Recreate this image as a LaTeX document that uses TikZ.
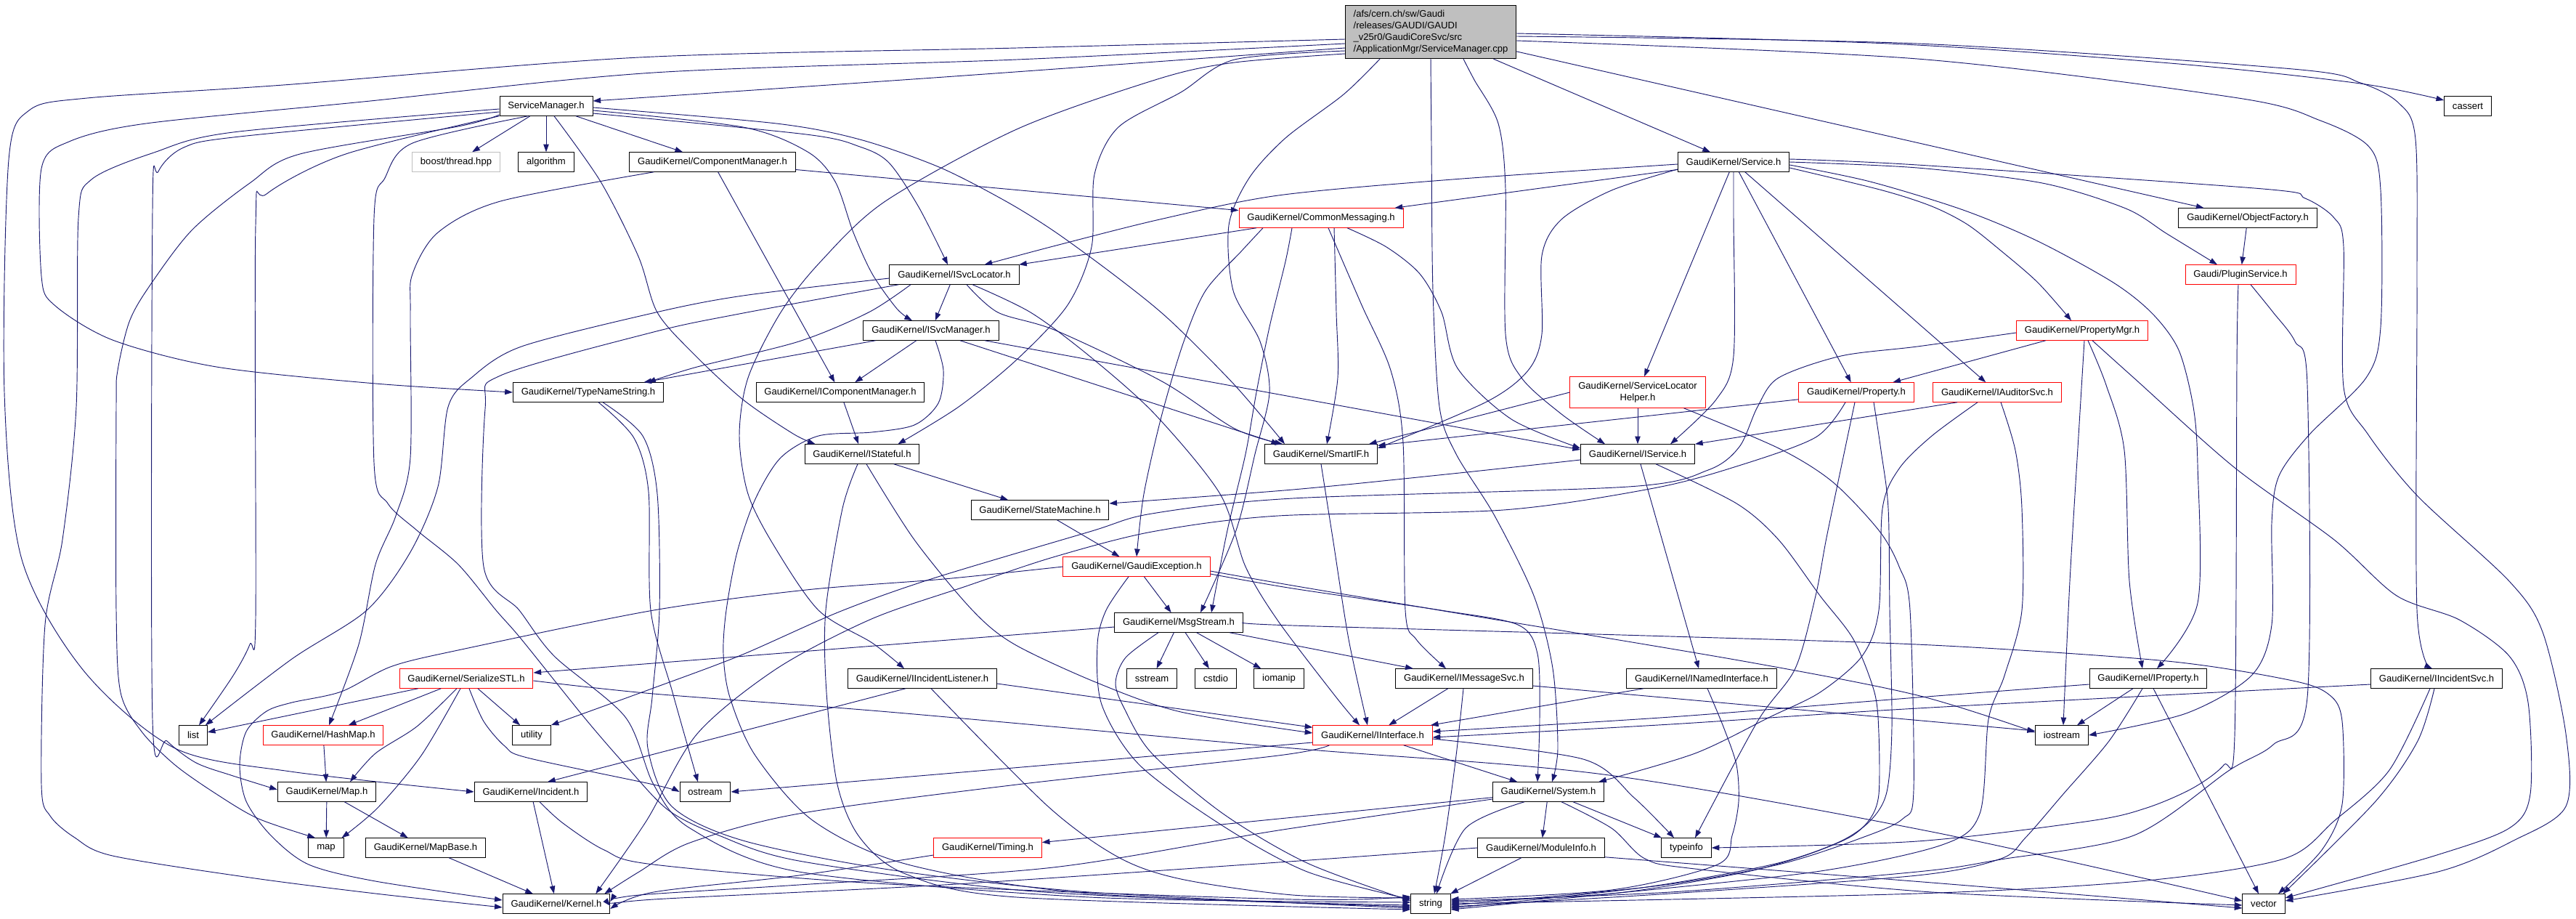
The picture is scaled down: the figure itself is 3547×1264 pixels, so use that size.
\documentclass[tikz,border=0pt]{standalone}
\usepackage{fontspec}
\setmainfont{Liberation Sans}
\usetikzlibrary{arrows.meta,calc}
\definecolor{edgec}{HTML}{191970}
\definecolor{grayc}{HTML}{BFBFBF}
\newcommand\edgeplot[1]{\draw[edge] plot[smooth,tension=0.5] coordinates {#1};}
\begin{document}
\begin{tikzpicture}[x=0.75pt,y=-0.75pt,
  box/.style={draw=black, line width=0.75pt, fill=white, inner xsep=8.5pt, inner ysep=0pt,
     minimum height=19.9pt, font=\fontsize{9.8}{12}\selectfont, anchor=center},
  redbox/.style={box, draw=red},
  graybox/.style={box, draw=grayc},
  rootbox/.style={box, fill=grayc, align=left, inner ysep=3.5pt, minimum height=55pt},
  edge/.style={draw=edgec, line width=0.7pt, -{Triangle[length=8pt,width=5.6pt]}},
]
\fill[white] (0,0) rectangle (3547,1264);
\useasboundingbox (0,0) rectangle (3547,1264);

% ---------------- nodes ----------------
\node[rootbox] (root) at (1970,44) {/afs/cern.ch/sw/Gaudi\\/releases/GAUDI/GAUDI\\\_v25r0/GaudiCoreSvc/src\\/ApplicationMgr/ServiceManager.cpp};
\node[box] (SM) at (752,146) {ServiceManager.h};
\node[box] (cassert) at (3398,146) {cassert};
\node[graybox] (boost) at (628,223) {boost/thread.hpp};
\node[box] (algo) at (752,223) {algorithm};
\node[box] (CM) at (981,223) {GaudiKernel/ComponentManager.h};
\node[box] (Svc) at (2387,223) {GaudiKernel/Service.h};
\node[redbox] (CMsg) at (1819,300) {GaudiKernel/CommonMessaging.h};
\node[box] (ObjF) at (3095,300) {GaudiKernel/ObjectFactory.h};
\node[box] (ISL) at (1314,378) {GaudiKernel/ISvcLocator.h};
\node[redbox] (PlugS) at (3085,378) {Gaudi/PluginService.h};
\node[box] (ISM) at (1282,455) {GaudiKernel/ISvcManager.h};
\node[redbox] (PMgr) at (2867,455) {GaudiKernel/PropertyMgr.h};
\node[box] (TNS) at (810,540) {GaudiKernel/TypeNameString.h};
\node[box] (ICM) at (1157,540) {GaudiKernel/IComponentManager.h};
\node[redbox, align=center, minimum height=32pt, inner ysep=2pt] (SLH) at (2255,540) {GaudiKernel/ServiceLocator\\Helper.h};
\node[redbox] (Prop) at (2556,540) {GaudiKernel/Property.h};
\node[redbox] (IAud) at (2750,540) {GaudiKernel/IAuditorSvc.h};
\node[box] (IStf) at (1187,625) {GaudiKernel/IStateful.h};
\node[box] (Smart) at (1819,625) {GaudiKernel/SmartIF.h};
\node[box] (ISvc) at (2255,625) {GaudiKernel/IService.h};
\node[box] (SMach) at (1432,702) {GaudiKernel/StateMachine.h};
\node[redbox] (GExc) at (1565,780) {GaudiKernel/GaudiException.h};
\node[box] (MsgS) at (1623,857) {GaudiKernel/MsgStream.h};
\node[redbox] (SSTL) at (642,934) {GaudiKernel/SerializeSTL.h};
\node[box] (IIL) at (1270,934) {GaudiKernel/IIncidentListener.h};
\node[box] (sstream) at (1586,934) {sstream};
\node[box] (cstdio) at (1674,934) {cstdio};
\node[box] (iomanip) at (1761,934) {iomanip};
\node[box] (IMS) at (2016,934) {GaudiKernel/IMessageSvc.h};
\node[box] (INI) at (2343,934) {GaudiKernel/INamedInterface.h};
\node[box] (IProp) at (2958,934) {GaudiKernel/IProperty.h};
\node[box] (IIS) at (3355,934) {GaudiKernel/IIncidentSvc.h};
\node[box] (list) at (266,1012) {list};
\node[redbox] (HashMap) at (445,1012) {GaudiKernel/HashMap.h};
\node[box] (utility) at (732,1012) {utility};
\node[redbox] (IIntf) at (1890,1012) {GaudiKernel/IInterface.h};
\node[box] (iostream) at (2839,1012) {iostream};
\node[box] (Map) at (450,1090) {GaudiKernel/Map.h};
\node[box] (Inc) at (731,1090) {GaudiKernel/Incident.h};
\node[box] (ostream) at (971,1090) {ostream};
\node[box] (Sys) at (2132,1090) {GaudiKernel/System.h};
\node[box] (map) at (449,1167) {map};
\node[box] (MapBase) at (586,1167) {GaudiKernel/MapBase.h};
\node[redbox] (Timing) at (1360,1167) {GaudiKernel/Timing.h};
\node[box] (ModInfo) at (2122,1167) {GaudiKernel/ModuleInfo.h};
\node[box] (typeinfo) at (2322,1167) {typeinfo};
\node[box] (Kernel) at (766,1244) {GaudiKernel/Kernel.h};
\node[box] (string) at (1970,1244) {string};
\node[box] (vector) at (3117,1244) {vector};

% ---------------- edges from root ----------------
\edgeplot{($(root.west)+(0,10)$) (1400,66) (880,79) (390,117) (120,135) (40,152) (12,220) (6,540) (30,770) (115,923) (241,1030) (400,1062) (Inc.west)}
\edgeplot{($(root.west)+(0,16)$) (1400,82) (900,100) (500,140) (201,170) (95,195) (57,232) (57,380) (75,420) (155,468) (298,505) (517,528) (TNS.west)}
\edgeplot{($(root.west)+(0,22)$) (1300,106) ($(SM.east)+(0,-7)$)}
\edgeplot{($(root.west)+(0,30)$) (1700,86) (1597,108) (1402,177) (1219,277) (1130,360) (1075,430) (1030,520) (1018,600) (1030,680) (1065,750) (1127,840) (1201,885) ($(IIL.north)+(-25,0)$)}
\edgeplot{($(root.west)+(0,26)$) (1700,82) (1626,127) (1540,175) (1507,240) (1503,340) (1470,420) (1400,495) (1320,560) ($(IStf.north east)+(-30,0)$)}
\edgeplot{($(root.south)+(-70,0)$) (1850,130) (1770,190) (1720,245) (1692,310) (1698,400) (1735,470) (1748,540) (1728,625) (1702,730) ($(MsgS.north)+(30,0)$)}
\edgeplot{(root.south) (1971,200) (1973,400) (1982,560) (2005,625) (2058,710) (2112,820) (2138,920) (2145,1030) ($(Sys.north)+(5,0)$)}
\edgeplot{($(root.south)+(45,0)$) (2030,110) (2063,170) (2073,260) (2073,460) (2095,520) (2150,570) ($(ISvc.north)+(-45,0)$)}
\draw[edge] (root) -- (Svc);
\draw[edge] (root) -- (ObjF);
\edgeplot{($(root.east)+(0,2)$) (2600,60) (3000,88) (3250,115) ($(cassert.west)+(0,-8)$)}
\edgeplot{($(root.east)+(0,6)$) (2640,60) (3157,95) (3250,114) (3303,142) (3326,192) (3328,400) (3328,840) ($(IIS.north)+(-6,0)$)}
\edgeplot{($(root.east)+(0,12)$) (2640,81) (3082,135) (3195,166) (3262,202) (3278,262) (3278,450) (3258,520) (3180,598) (3138,655) (3128,720) (3128,860) (3100,930) (3010,982) (iostream.east)}

% ---------------- ServiceManager.h ----------------
\draw[edge] (SM) -- (boost);
\draw[edge] (SM) -- (algo);
\draw[edge] (SM) -- (CM);
\edgeplot{($(SM.west)+(0,4)$) (321,182) (212,210) (126,247) (108,300) (105,560) (86,743) (62,860) (57,1080) (69,1123) (103,1153) (155,1178) (344,1208) (517,1230) ($(Kernel.west)+(0,5)$)}
\edgeplot{($(SM.west)+(0,8)$) (330,188) (253,203) (218,236) (210,290) (210,990) (230,1020) (270,1050) (321,1068) ($(Map.west)+(0,-3)$)}
\edgeplot{($(SM.west)+(0,12)$) (631,174) (413,212) (344,252) (264,317) (205,395) (178,443) (162,510) (160,560) (160,840) (166,953) (195,1007) (241,1053) (298,1093) (356,1127) ($(map.north)+(-15,0)$)}
\edgeplot{(SM.south west) (476,212) (367,267) (352,310) (352,850) (344,887) (321,930) ($(list.north)+(8,0)$)}
\edgeplot{($(SM.south)+(-25,0)$) (568,197) (530,245) (515,300) (515,637) (534,693) (574,730) (631,777) (683,840) (718,880) (804,987) (861,1053) (920,1115) (990,1150) (1100,1185) (1400,1225) (1700,1240) ($(string.west)+(0,2)$)}
\edgeplot{($(SM.south)+(11,0)$) (827,250) (879,353) (905,430) (955,487) (1023,550) (1092,597) ($(IStf.north west)+(15,0)$)}
\edgeplot{($(SM.east)+(0,6)$) (1023,175) (1112,209) (1150,250) (1175,320) (1201,377) (1235,425) ($(ISM.north)+(-26,0)$)}
\edgeplot{($(SM.east)+(0,10)$) (1110,185) (1184,202) (1224,224) (1265,285) ($(ISL.north)+(-9,0)$)}
\edgeplot{($(SM.east)+(0,2)$) (1069,170) (1184,192) (1293,230) (1385,277) (1454,320) (1540,383) (1610,440) (1700,530) ($(Smart.north)+(-50,0)$)}

% ---------------- ComponentManager.h ----------------
\draw[edge] (CM) -- (CMsg);
\draw[edge] (CM) -- (ICM);
\edgeplot{($(CM.south west)+(34,0)$) (689,277) (603,320) (568,377) (565,430) (565,630) (545,710) (517,777) (494,887) ($(HashMap.north)+(8,0)$)}

% ---------------- Service.h ----------------
\edgeplot{($(Svc.west)+(0,3)$) (2000,247) (1760,269) (1597,302) (1454,338) ($(ISL.north east)+(-48,0)$)}
\draw[edge] (Svc) -- (CMsg);
\edgeplot{($(Svc.west)+(0,10)$) (2219,262) (2150,302) (2123,352) (2123,460) (2104,510) (2047,553) ($(Smart.east)+(0,-8)$)}
\draw[edge] (Svc) -- (SLH);
\edgeplot{(Svc.south) (2387,300) (2387,490) (2363,550) ($(ISvc.north)+(45,0)$)}
\draw[edge] (Svc) -- (Prop);
\draw[edge] (Svc) -- (IAud);
\edgeplot{($(Svc.east)+(0,8)$) (2592,262) (2660,284) (2709,309) (2755,345) (2806,389) ($(PMgr.north)+(-15,0)$)}
\edgeplot{($(Svc.east)+(0,4)$) (2575,250) (2703,289) (2806,332) (2910,389) (2964,432) (3000,482) (3020,560) (3026,640) (3026,830) ($(IProp.north)+(12,0)$)}
\edgeplot{(Svc.east) (2640,231) (2812,252) (2927,287) (2984,322) ($(PlugS.north)+(-32,0)$)}
\edgeplot{($(Svc.east)+(0,-4)$) (2640,227) (3116,260) (3174,273) (3214,300) (3227,340) (3227,533) (3260,597) (3329,683) (3455,800) (3501,870) (3533,1010) (3533,1110) (3461,1157) (3357,1200) ($(vector.east)+(0,-4)$)}

\draw[edge] (ObjF) -- (PlugS);
\edgeplot{($(PlugS.south)+(-3,0)$) (3080,500) (3077,1013) (3062,1053) (3019,1085) (2956,1112) (2878,1130) (2640,1158) (typeinfo.east)}
\edgeplot{($(PlugS.south)+(14,0)$) (3130,430) (3160,470) (3177,530) (3177,960) (3130,1025) (3070,1060) (2938,1150) (2755,1183) (2640,1200) (2300,1228) ($(string.east)+(0,-4)$)}

% ---------------- CommonMessaging.h ----------------
\draw[edge] (CMsg) -- (ISL);
\edgeplot{($(CMsg.south)+(10,0)$) (1875,420) (1915,510) (1932,610) (1935,840) (1950,880) ($(IMS.north)+(-25,0)$)}
\edgeplot{($(CMsg.south)+(18,0)$) (1840,430) (1842,520) ($(Smart.north)+(8,0)$)}
\edgeplot{($(CMsg.south)+(36,0)$) (1909,340) (1955,377) (1985,430) (2007,507) (2081,577) ($(ISvc.west)+(0,-8)$)}
\edgeplot{($(CMsg.south)+(-80,0)$) (1710,345) (1660,400) (1630,470) (1600,570) (1575,680) (GExc.north)}
\edgeplot{($(CMsg.south)+(-40,0)$) (1770,360) (1748,450) (1730,540) (1715,625) (1690,730) ($(MsgS.north)+(45,0)$)}

% ---------------- ISvcLocator.h ----------------
\edgeplot{($(ISL.west)+(0,5)$) (1023,407) (903,430) (718,477) (649,520) (617,560) (603,670) (565,760) (505,840) (402,907) ($(list.north east)+(-3,0)$)}
\edgeplot{($(ISL.south west)+(13,0)$) (1018,432) (900,457) (689,517) (668,563) (666,780) (715,840) (763,903) (861,987) (900,1080) (950,1140) (1100,1200) (1500,1235) ($(string.west)+(0,-2)$)}
\edgeplot{($(ISL.south)+(-60,0)$) (1196,430) (1100,470) (960,505) ($(TNS.north east)+(-22,0)$)}
\draw[edge] (ISL) -- (ISM);
\edgeplot{($(ISL.south)+(17,0)$) (1374,430) (1454,455) (1600,525) (1700,590) ($(Smart.north west)+(25,0)$)}
\edgeplot{($(ISL.south)+(25,0)$) (1419,430) (1500,490) (1590,570) (1680,680) (1715,780) (1760,855) (1840,960) ($(IIntf.north)+(-18,0)$)}

% ---------------- ISvcManager.h ----------------
\draw[edge] (ISM) -- (TNS);
\draw[edge] (ISM) -- (ICM);
\edgeplot{($(ISM.south)+(6,0)$) (1299,510) (1292,555) (1259,585) (1200,595) (1127,600) (1075,630) (1040,687) (1015,760) (1000,840) (996,900) (1005,960) (1040,1040) (1120,1130) (1250,1190) (1500,1230) ($(string.west)+(0,4)$)}
\draw[edge] ($(ISM.south)+(40,0)$) -- ($(Smart.north west)+(20,0)$);
\draw[edge] ($(ISM.south)+(74,0)$) -- ($(ISvc.west)+(0,-6)$);

% ---------------- TypeNameString.h ----------------
\edgeplot{($(TNS.south)+(14,0)$) (873,603) (893,677) (896,840) (926,953) ($(ostream.north)+(-10,0)$)}
\edgeplot{($(TNS.south)+(20,0)$) (885,600) (905,680) (908,840) (898,960) (892,1030) (925,1110) (1023,1157) (1224,1197) (1500,1228) ($(string.west)+(0,6)$)}

\draw[edge] (ICM) -- (IStf);
\draw[edge] (IStf) -- (SMach);
\edgeplot{($(IStf.south)+(6,0)$) (1259,743) (1339,840) (1397,887) (1511,940) (1626,980) ($(IIntf.west)+(0,-3)$)}
\edgeplot{($(IStf.south)+(-6,0)$) (1160,700) (1137,840) (1138,953) (1153,1080) (1184,1153) (1247,1203) (1400,1235) ($(string.west)+(0,8)$)}

% ---------------- ServiceLocatorHelper.h / Property.h ----------------
\draw[edge] (SLH) -- (ISvc);
\draw[edge] (SLH.west) -- ($(Smart.north east)+(-12,0)$);
\edgeplot{($(SLH.south east)+(-30,0)$) (2449,617) (2523,663) (2587,730) (2615,780) (2630,840) (2635,1087) (2620,1127) (2564,1153) (2449,1190) (2277,1220) ($(string.east)+(0,2)$)}
\draw[edge] ($(Prop.south west)+(0,-4)$) -- ($(Smart.north east)+(0,2)$);
\edgeplot{($(Prop.south)+(-2,0)$) (2540,620) (2515,740) (2500,820) (2472,920) (2420,993) ($(typeinfo.north)+(12,0)$)}
\edgeplot{($(Prop.south)+(24,0)$) (2590,620) (2600,700) (2602,840) (2605,1000) (2598,1090) (2575,1130) (2530,1160) (2440,1190) (2260,1222) ($(string.east)+(0,6)$)}
\edgeplot{($(Prop.south)+(-15,0)$) (2500,602) (2391,642) (2277,672) (2070,702) (1760,710) (1586,732) (1450,767) (1330,807) (1200,852) (1070,920) (960,1010) (890,1130) ($(Kernel.north east)+(-20,0)$)}

% ---------------- PropertyMgr.h ----------------
\draw[edge] (PMgr) -- (Prop);
\edgeplot{($(PMgr.south)+(8,0)$) (2900,530) (2925,620) (2932,800) ($(IProp.north)+(-8,0)$)}
\edgeplot{($(PMgr.south)+(3,0)$) (2862,600) (2850,800) ($(iostream.north)+(2,0)$)}
\edgeplot{($(PMgr.south)+(14,0)$) (2938,520) (3076,643) (3214,743) (3300,820) (3386,853) (3455,903) (3481,967) (3484,1093) (3455,1140) (3352,1178) ($(vector.east)+(0,-8)$)}
\edgeplot{($(PMgr.west)+(0,3)$) (2640,477) (2535,490) (2449,520) (2420,560) (2395,615) (2352,647) (2242,670) (1780,686) (1586,707) (1500,732) (1282,797) (1156,842) (1020,902) (900,947) (utility.north east)}

% ---------------- IAuditorSvc.h ----------------
\draw[edge] ($(IAud.south)+(-55,0)$) -- (ISvc.north east);
\edgeplot{($(IAud.south)+(-27,0)$) (2660,600) (2615,645) (2592,700) (2587,840) (2564,903) (2506,953) (2437,987) (2334,1037) ($(Sys.north east)+(-8,0)$)}
\edgeplot{($(IAud.south)+(5,0)$) (2775,620) (2784,700) (2784,840) (2760,930) (2738,990) (2726,1120) (2674,1163) (2500,1200) (2200,1232) ($(string.east)+(0,8)$)}

% ---------------- SmartIF.h / IService.h ----------------
\edgeplot{(Smart.south) (1835,740) (1857,880) ($(IIntf.north)+(-7,0)$)}
\draw[edge] (ISvc) -- (INI);
\edgeplot{($(ISvc.west)+(0,8)$) (2000,652) (1780,674) ($(SMach.east)+(0,-9)$)}
\edgeplot{($(ISvc.south)+(25,0)$) (2391,693) (2449,743) (2506,820) (2552,880) (2581,953) (2587,1010) (2587,1093) (2575,1127) (2546,1153) (2478,1180) (2391,1203) (2219,1230) ($(string.east)+(0,-2)$)}
\draw[edge] (SMach) -- (GExc);

% ---------------- GaudiException.h ----------------
\draw[edge] (GExc) -- (MsgS);
\edgeplot{(GExc.west) (1300,797) (1110,812) (900,840) (640,893) (540,917) (470,952) (402,967) (367,979) (339,1007) (330,1053) (339,1103) (373,1150) (425,1190) (517,1213) ($(Kernel.west)+(0,-5)$)}
\edgeplot{($(GExc.south)+(-11,0)$) (1523,840) (1511,887) (1517,970) (1569,1053) (1684,1137) (1800,1200) ($(string.west)+(0,-6)$)}
\edgeplot{($(GExc.east)+(0,10)$) (1780,810) (1984,840) (2090,860) (2117,900) (2120,990) ($(Sys.north)+(-15,0)$)}
\edgeplot{($(GExc.east)+(0,6)$) (1780,806) (2000,843) (2400,910) (2640,957) ($(iostream.west)+(0,-4)$)}

% ---------------- MsgStream.h ----------------
\draw[edge] (MsgS) -- (sstream);
\draw[edge] (MsgS) -- (cstdio);
\draw[edge] (MsgS) -- (iomanip);
\draw[edge] (MsgS) -- (IMS);
\draw[edge] ($(MsgS.west)+(0,6)$) -- ($(SSTL.east)+(0,-8)$);
\edgeplot{($(MsgS.south)+(-28,0)$) (1550,905) (1536,940) (1548,975) (1586,1037) (1684,1120) (1800,1188) ($(string.west)+(0,-4)$)}
\edgeplot{(MsgS.east) (1780,861) (2300,876) (2660,888) (2984,910) (3157,937) (3208,957) (3225,993) (3225,1107) (3197,1170) ($(vector.north)+(20,0)$)}

% ---------------- SerializeSTL.h ----------------
\draw[edge] (SSTL) -- (list);
\draw[edge] (SSTL) -- (HashMap);
\draw[edge] (SSTL) -- (utility);
\edgeplot{($(SSTL.south)+(-13,0)$) (574,1000) (517,1037) ($(Map.north)+(32,0)$)}
\edgeplot{($(SSTL.south)+(-8,0)$) (580,1040) (520,1112) ($(map.north east)+(-3,0)$)}
\edgeplot{($(SSTL.south)+(4,0)$) (666,993) (695,1027) (726,1043) (900,1080) (ostream.west)}
\edgeplot{($(SSTL.east)+(0,3)$) (900,955) (1224,980) (1780,1030) (2208,1066) (2660,1145) ($(vector.west)+(0,-4)$)}

% ---------------- IIncidentListener.h ----------------
\draw[edge] ($(IIL.east)+(0,7)$) -- ($(IIntf.north west)+(0,3)$);
\draw[edge] ($(IIL.south)+(-23,0)$) -- ($(Inc.north)+(23,0)$);
\edgeplot{($(IIL.south)+(12,0)$) (1443,1110) (1540,1180) (1626,1210) (1780,1232) ($(string.west)+(0,-8)$)}

% ---------------- IMessageSvc.h / INamedInterface.h ----------------
\draw[edge] (IMS) -- (IIntf);
\edgeplot{($(IMS.south)+(-1,0)$) (2005,1040) (1990,1150) ($(string.north)+(5,0)$)}
\draw[edge] ($(IMS.east)+(0,10)$) -- ($(iostream.west)+(0,-6)$);
\draw[edge] (INI) -- (IIntf);
\edgeplot{($(INI.south)+(8,0)$) (2374,1003) (2391,1053) (2394,1103) (2385,1150) (2365,1190) (2219,1225) ($(string.east)+(0,-6)$)}

% ---------------- IProperty.h / IIncidentSvc.h ----------------
\edgeplot{($(IProp.west)+(0,8)$) (2640,960) (2300,987) ($(IIntf.east)+(0,-5)$)}
\draw[edge] (IProp) -- (iostream);
\edgeplot{($(IProp.south)+(-8,0)$) (2904,1020) (2841,1093) (2789,1153) (2755,1182) (2640,1205) (2300,1230) ($(string.east)+(0,4)$)}
\draw[edge] (IProp) -- (vector);
\edgeplot{($(IIS.west)+(0,8)$) (2640,975) (2300,997) ($(IIntf.east)+(0,3)$)}
\edgeplot{($(IIS.south)+(-3,0)$) (3329,1020) (3271,1103) ($(vector.north east)+(-3,0)$)}
\edgeplot{($(IIS.south)+(-9,0)$) (3290,1060) (3214,1130) (3145,1182) (2956,1212) (2640,1230) (string.east)}

\draw[edge] (HashMap) -- (Map);

% ---------------- IInterface.h ----------------
\draw[edge] ($(IIntf.west)+(0,10)$) -- (ostream.east);
\draw[edge] (IIntf) -- (Sys);
\edgeplot{($(IIntf.east)+(0,5)$) (2180,1045) (2250,1098) ($(typeinfo.north)+(-17,0)$)}
\edgeplot{($(IIntf.south west)+(23,0)$) (1760,1040) (1400,1080) (1100,1120) (950,1160) (880,1200) ($(Kernel.north east)+(-8,0)$)}

% ---------------- bottom rows ----------------
\draw[edge] (Map) -- (map);
\draw[edge] (Map) -- (MapBase);
\draw[edge] (Inc) -- (Kernel);
\edgeplot{($(Inc.south)+(12,0)$) (775,1133) (832,1170) (900,1190) (1224,1217) (1780,1238) ($(string.west)+(0,-10)$)}
\draw[edge] (MapBase) -- (Kernel);
\draw[edge] (Sys) -- (Timing);
\edgeplot{($(Sys.west)+(0,10)$) (1760,1143) (1450,1194) (1100,1218) (880,1232) ($(Kernel.east)+(0,-3)$)}
\edgeplot{($(Sys.south)+(-33,0)$) (2018,1140) ($(string.north)+(8,0)$)}
\draw[edge] (Sys) -- (ModInfo);
\draw[edge] (Sys) -- (typeinfo);
\edgeplot{($(Sys.south)+(18,0)$) (2219,1140) (2265,1182) (2334,1196) (2660,1228) ($(vector.west)+(0,2)$)}
\draw[edge] (ModInfo) -- (string);
\edgeplot{(ModInfo.west) (1760,1187) (1300,1218) (900,1238) ($(Kernel.east)+(0,3)$)}
\edgeplot{($(ModInfo.south east)+(0,-1)$) (2660,1215) ($(vector.west)+(0,6)$)}
\edgeplot{($(Timing.west)+(0,10)$) (1100,1205) (900,1228) ($(Kernel.east)+(0,7)$)}

\end{tikzpicture}
\end{document}
